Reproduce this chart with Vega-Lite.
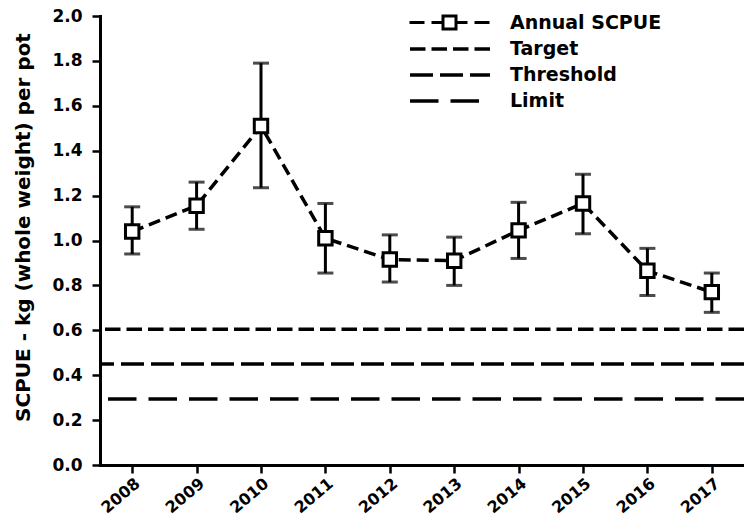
{
  "$schema": "https://vega.github.io/schema/vega-lite/v6.json",
  "width": 644,
  "height": 449,
  "autosize": "none",
  "padding": {"left": 100, "top": 16, "right": 0, "bottom": 59},
  "background": "white",
  "config": {
    "view": {"stroke": null},
    "font": "DejaVu Sans",
    "axis": {
      "domainColor": "black", "domainWidth": 3, "domainCap": "square",
      "tickColor": "black", "tickWidth": 2.5, "tickSize": 8,
      "labelFont": "DejaVu Sans", "labelFontWeight": "bold", "labelColor": "black",
      "grid": false,
      "titleFont": "DejaVu Sans", "titleFontWeight": "bold", "titleColor": "black"
    },
    "legend": {
      "labelFont": "DejaVu Sans", "labelFontWeight": "bold", "labelColor": "black", "labelFontSize": 19,
      "padding": 0, "rowPadding": 6
    }
  },
  "datasets": {
    "annual": [
      {"series": "Annual SCPUE", "year": 2008, "mean": 1.04, "lo": 0.94, "hi": 1.15},
      {"series": "Annual SCPUE", "year": 2009, "mean": 1.155, "lo": 1.05, "hi": 1.26},
      {"series": "Annual SCPUE", "year": 2010, "mean": 1.51, "lo": 1.235, "hi": 1.79},
      {"series": "Annual SCPUE", "year": 2011, "mean": 1.01, "lo": 0.855, "hi": 1.165},
      {"series": "Annual SCPUE", "year": 2012, "mean": 0.915, "lo": 0.815, "hi": 1.025},
      {"series": "Annual SCPUE", "year": 2013, "mean": 0.91, "lo": 0.80, "hi": 1.015},
      {"series": "Annual SCPUE", "year": 2014, "mean": 1.045, "lo": 0.92, "hi": 1.17},
      {"series": "Annual SCPUE", "year": 2015, "mean": 1.165, "lo": 1.03, "hi": 1.295},
      {"series": "Annual SCPUE", "year": 2016, "mean": 0.865, "lo": 0.755, "hi": 0.965},
      {"series": "Annual SCPUE", "year": 2017, "mean": 0.77, "lo": 0.68, "hi": 0.855}
    ],
    "refs": [
      {"series": "Target", "value": 0.605},
      {"series": "Threshold", "value": 0.45},
      {"series": "Limit", "value": 0.294}
    ]
  },
  "layer": [
    {
      "data": {"name": "refs"},
      "mark": {"type": "rule", "strokeWidth": 3.5, "color": "black", "strokeCap": "butt"},
      "encoding": {
        "y": {
          "field": "value", "type": "quantitative",
          "title": "SCPUE - kg (whole weight) per pot",
          "scale": {"domain": [0, 2], "nice": false},
          "axis": {
            "values": [0, 0.2, 0.4, 0.6, 0.8, 1.0, 1.2, 1.4, 1.6, 1.8, 2.0],
            "format": ".1f", "labelFontSize": 17, "labelPadding": 10,
            "titleFontSize": 20, "titlePadding": 18, "titleY": 211
          }
        },
        "strokeDash": {
          "field": "series", "type": "nominal",
          "scale": {
            "domain": ["Annual SCPUE", "Target", "Threshold", "Limit"],
            "range": [[0, 100], [15.5, 6], [23, 7], [28.5, 12]]
          },
          "legend": {
            "orient": "none", "legendX": 340, "legendY": -3, "title": null,
            "symbolType": "M-5,0H5", "symbolSize": 256, "labelOffset": 50,
            "symbolStrokeWidth": 3.5, "symbolStrokeColor": "black"
          }
        }
      }
    },
    {
      "data": {"name": "annual"},
      "mark": {"type": "line", "strokeDash": [12, 6], "strokeWidth": 3.5, "color": "black"},
      "encoding": {
        "x": {
          "field": "year", "type": "quantitative",
          "scale": {"domain": [2007.5, 2017.5], "nice": false, "zero": false},
          "axis": {
            "values": [2008, 2009, 2010, 2011, 2012, 2013, 2014, 2015, 2016, 2017],
            "format": "d", "labelAngle": -40, "labelFontSize": 16, "title": null
          }
        },
        "y": {"field": "mean", "type": "quantitative", "title": "SCPUE - kg (whole weight) per pot"}
      }
    },
    {
      "data": {"name": "annual"},
      "mark": {"type": "errorbar", "color": "black", "thickness": 3, "ticks": {"size": 16, "thickness": 3}},
      "encoding": {
        "x": {"field": "year", "type": "quantitative"},
        "y": {"field": "lo", "type": "quantitative", "title": "SCPUE - kg (whole weight) per pot"},
        "y2": {"field": "hi"}
      }
    },
    {
      "data": {"name": "annual"},
      "mark": {"type": "point", "shape": "square", "filled": true, "fill": "white", "strokeWidth": 3, "size": 180, "opacity": 1},
      "encoding": {
        "x": {"field": "year", "type": "quantitative"},
        "y": {"field": "mean", "type": "quantitative", "title": "SCPUE - kg (whole weight) per pot"},
        "stroke": {
          "field": "series", "type": "nominal",
          "scale": {"domain": ["Annual SCPUE"], "range": ["black"]},
          "legend": {
            "orient": "none", "legendX": 340, "legendY": -3, "title": null,
            "symbolType": "M-5,0H-3.125M-2.25,0H-1M-0.8125,-0.8125H0.8125V0.8125H-0.8125ZM1,0H2.25M3.125,0H5",
            "symbolSize": 256, "labelExpr": "''", "symbolStrokeWidth": 3, "symbolFillColor": "white"
          }
        }
      }
    }
  ]
}
